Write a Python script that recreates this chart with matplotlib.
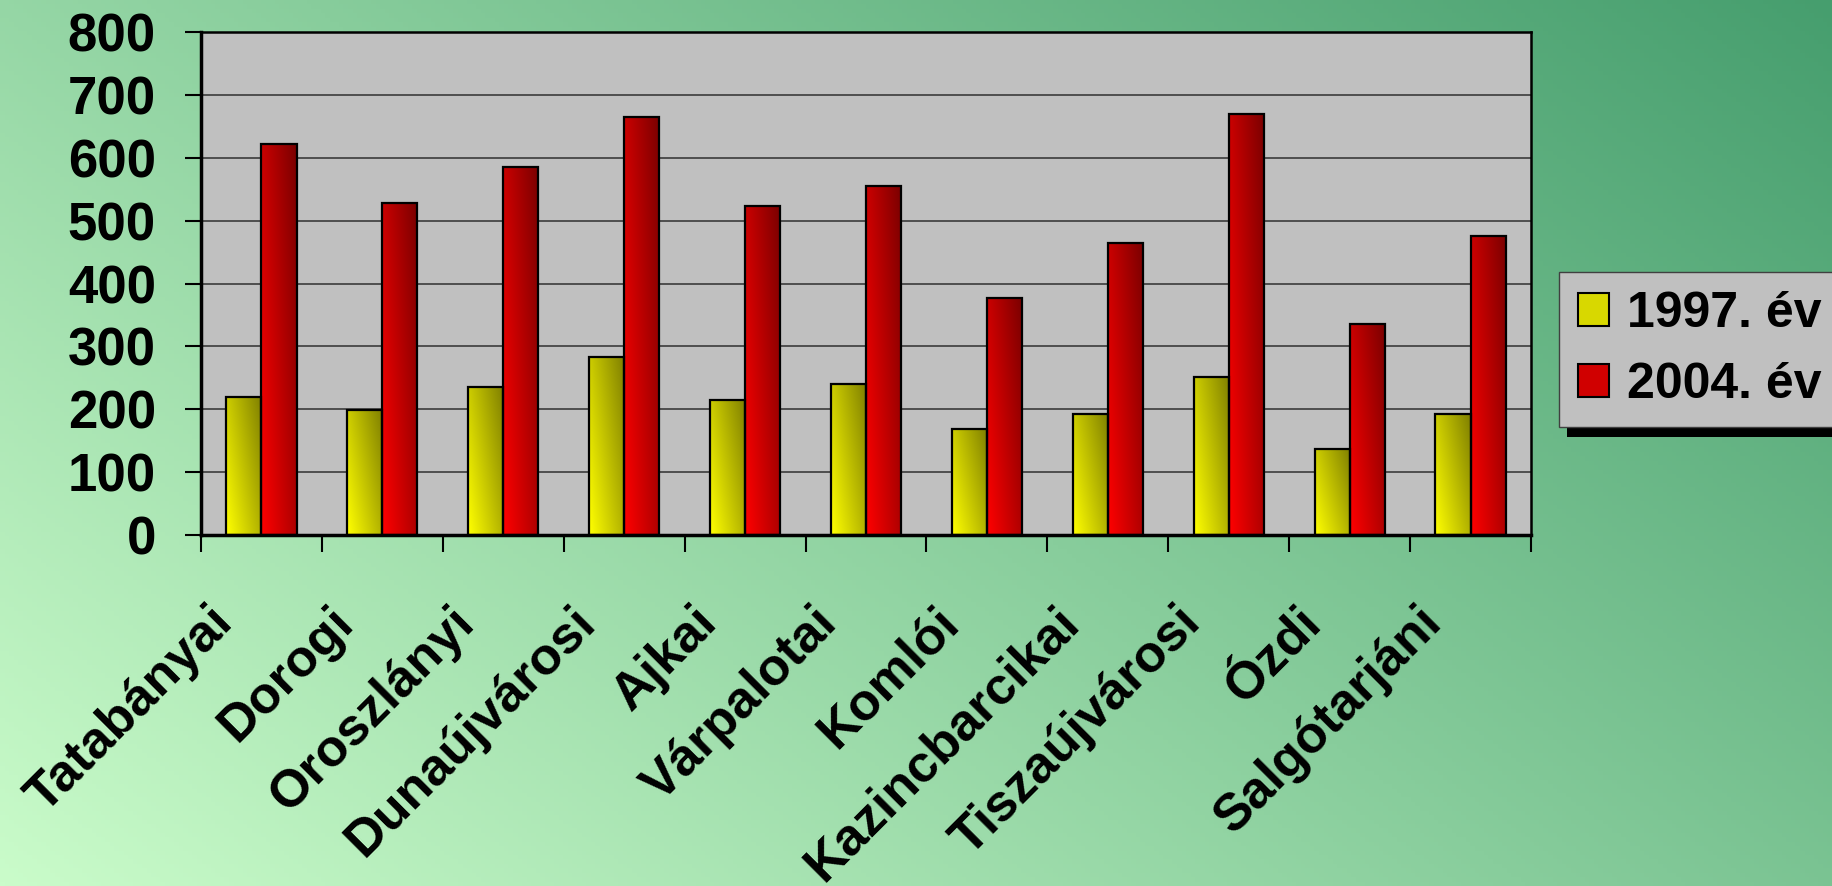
import numpy as np
import matplotlib
matplotlib.use('Agg')
import matplotlib.pyplot as plt
from matplotlib.patches import Rectangle
from matplotlib.colors import to_rgb
import matplotlib.transforms as mtransforms

categories = ['Tatabányai', 'Dorogi', 'Oroszlányi', 'Dunaújvárosi', 'Ajkai',
              'Várpalotai', 'Komlói', 'Kazincbarcikai', 'Tiszaújvárosi',
              'Ózdi', 'Salgótarjáni']
values_1997 = [220, 199, 235, 283, 215, 240, 168, 193, 251, 136, 193]
values_2004 = [622, 528, 586, 665, 523, 555, 377, 465, 669, 335, 476]
series_labels = ['1997. év', '2004. év']
yticks = [0, 100, 200, 300, 400, 500, 600, 700, 800]

plt.rcParams['font.family'] = ['Liberation Sans', 'DejaVu Sans']
plt.rcParams['font.weight'] = 'bold'

W, H = 1832, 886
fig = plt.figure(figsize=(W / 100, H / 100), dpi=100)

# background gradient
bg = fig.add_axes([0, 0, 1, 1], zorder=-10)
xx, yy = np.meshgrid(np.linspace(0, 1, 400), np.linspace(0, 1, 200))
t = 0.6 * xx + 0.4 * yy
light = np.array([202, 252, 202]) / 255
dark = np.array([70, 158, 110]) / 255
img = light[None, None, :] * (1 - t[..., None]) + dark[None, None, :] * t[..., None]
bg.imshow(img, origin='lower', extent=[0, 1, 0, 1], aspect='auto')
bg.axis('off')

ax = fig.add_axes([201 / W, 1 - 535 / H, (1531 - 201) / W, (535 - 32) / H])
ax.set_facecolor('#c0c0c0')

x = np.arange(len(categories))
bw = 0.29
b1 = ax.bar(x - bw / 2, values_1997, bw, facecolor='none', edgecolor='black',
            linewidth=1.6, zorder=3)
b2 = ax.bar(x + bw / 2, values_2004, bw, facecolor='none', edgecolor='black',
            linewidth=1.6, zorder=3)


def grad_fill(bars, c_bright, c_dark):
    cb = np.array(to_rgb(c_bright))
    cd = np.array(to_rgb(c_dark))
    u, v = np.meshgrid(np.linspace(0, 1, 30), np.linspace(0, 1, 80))
    tt = np.clip(0.6 * u + 0.4 * v, 0, 1)
    arr = cb[None, None, :] * (1 - tt[..., None]) + cd[None, None, :] * tt[..., None]
    for p in bars:
        x0 = p.get_x()
        w = p.get_width()
        h = p.get_height()
        im = ax.imshow(arr, origin='lower', extent=[x0, x0 + w, 0, h],
                       aspect='auto', zorder=2.5, interpolation='bilinear')
        im.set_clip_path(p)


grad_fill(b1, '#ffff00', '#808000')
grad_fill(b2, '#ff0000', '#7a0000')

ax.set_xlim(-0.5, len(categories) - 0.5)
ax.set_ylim(0, 800)
ax.set_aspect('auto')

ax.yaxis.grid(True, color='#303030', linewidth=1.1)
ax.set_axisbelow(True)

ax.set_yticks(yticks)
ax.set_yticklabels([str(v) for v in yticks])
ax.tick_params(axis='y', length=11.5, width=1.5, labelsize=38, pad=21,
               direction='out')
ax.set_xticks(np.arange(-0.5, len(categories), 1))
ax.set_xticklabels([])
ax.tick_params(axis='x', length=12, width=1.5, direction='out')

for s in ['left', 'bottom']:
    ax.spines[s].set_linewidth(2.5)
for s in ['top', 'right']:
    ax.spines[s].set_linewidth(1.8)

off = mtransforms.offset_copy(ax.transData, fig=fig, x=-36, y=-80, units='dots')
for i, name in enumerate(categories):
    ax.text(x[i], 0, name, transform=off, rotation=45, ha='right', va='center',
            rotation_mode='anchor', fontsize=37.5, fontweight='bold', clip_on=False)

handles = [Rectangle((0, 0), 1, 1, facecolor='#d8d800', edgecolor='black', linewidth=1.5),
           Rectangle((0, 0), 1, 1, facecolor='#d00000', edgecolor='black', linewidth=1.5)]
leg = fig.legend(handles, series_labels, loc='upper left',
                 bbox_to_anchor=(1559 / W, 1 - 272 / H),
                 bbox_transform=fig.transFigure, fontsize=36, frameon=True,
                 fancybox=False, edgecolor='#404040', facecolor='#c0c0c0',
                 framealpha=1, handlelength=0.62, handleheight=0.62,
                 handletextpad=0.36, labelspacing=0.5, borderpad=0.38,
                 borderaxespad=0)
leg.get_frame().set_linewidth(1)
leg.set_zorder(10)

fig.canvas.draw()
bb = leg.get_window_extent()
shadow = Rectangle(((bb.x0 + 8) / W, (bb.y0 - 10) / H), bb.width / W, bb.height / H,
                   transform=fig.transFigure, facecolor='black', edgecolor='none',
                   zorder=9)
fig.add_artist(shadow)

fig.savefig('out.png', dpi=100)
